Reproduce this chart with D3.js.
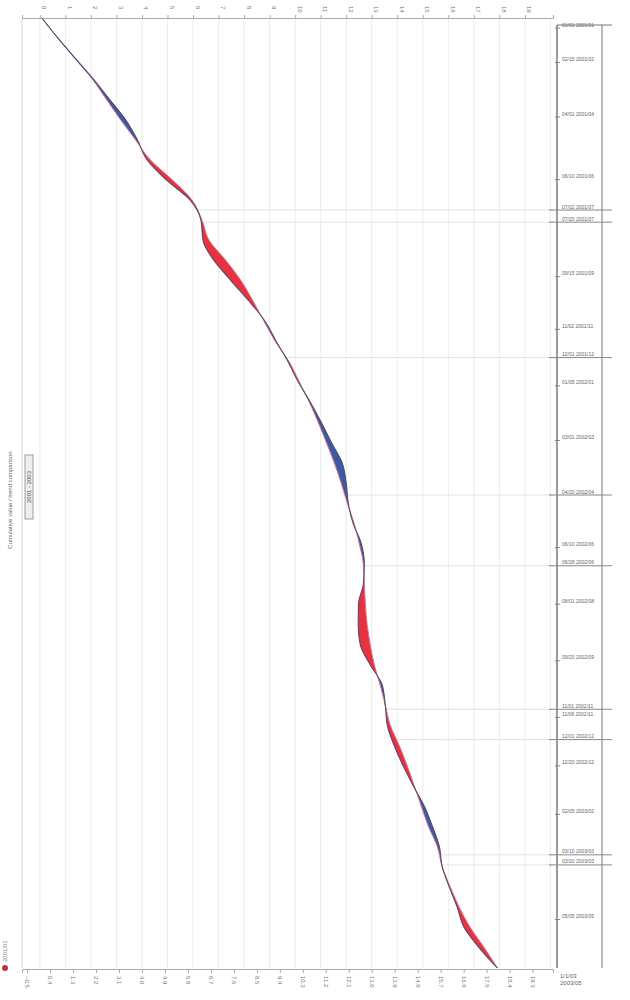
<!DOCTYPE html>
<html>
<head>
<meta charset="utf-8">
<script src="https://cdn.jsdelivr.net/npm/d3@7"></script>
<style>
  body { margin: 0; background: #fff; }
  svg { display: block; font-family: "Liberation Sans", Arial, sans-serif; }
</style>
</head>
<body>
<div id="chart"></div>
<script>
// baseline (trend) and actual series, one value per period
var baseline = [0.08, 0.71, 1.37, 2.04, 2.59, 3.14, 3.73, 4.31, 5.18, 5.96,
  6.35, 6.63, 7.29, 7.88, 8.35, 8.78, 9.22, 9.76, 10.16, 10.55,
  10.90, 11.22, 11.53, 11.80, 12.04, 12.31, 12.51, 12.67, 12.71, 12.75,
  12.82, 12.94, 13.10, 13.33, 13.53, 13.73, 14.08, 14.39, 14.67, 14.94,
  15.22, 15.57, 15.76, 16.08, 16.43, 16.86, 17.41, 17.92]
var actual = [0.08, 0.71, 1.39, 2.08, 2.71, 3.34, 3.81, 4.19, 4.94, 5.88,
  6.31, 6.39, 6.82, 7.49, 8.19, 8.82, 9.26, 9.72, 10.12, 10.59,
  11.02, 11.42, 11.84, 12.00, 12.08, 12.27, 12.59, 12.71, 12.67, 12.48,
  12.47, 12.55, 12.94, 13.41, 13.53, 13.61, 13.88, 14.23, 14.63, 15.06,
  15.38, 15.65, 15.76, 16.04, 16.35, 16.62, 17.21, 17.92]
var periods = d3.range(baseline.length)

// marks on the time strip (period index) and their labels
var markPos = [0.5, 2.2, 4.9, 8.0, 9.5, 10.1, 12.8, 15.4, 16.8, 18.2, 20.9, 23.6,
  26.2, 27.1, 29.0, 31.8, 34.2, 34.6, 35.7, 37.0, 39.4, 41.4, 41.9, 44.6]
var markLabels = ["01/01  2001/01", "02/15  2001/02", "04/01  2001/04", "06/10  2001/06",
  "07/02  2001/07", "07/20  2001/07", "09/15  2001/09", "11/02  2001/11",
  "12/01  2001/12", "01/05  2002/01", "03/01  2002/03", "04/20  2002/04",
  "06/10  2002/06", "06/28  2002/06", "08/01  2002/08", "09/20  2002/09",
  "11/01  2002/11", "11/08  2002/11", "12/01  2002/12", "12/20  2002/12",
  "02/05  2003/02", "03/10  2003/03", "03/20  2003/03", "05/05  2003/05"]
var majorMarks = [4, 5, 8, 11, 13, 16, 18, 21, 22]

var titleText = "Cumulative value / trend comparison"
var boxText = "2001 - 2003"
var startLabel = "2001/01"
var endLabel = ["1/1/03", "2003/05"]

var W = 630, H = 1000
var svg = d3.select("#chart").append("svg")
  .attr("width", W).attr("height", H)

var x = d3.scaleLinear().domain([-0.7, 20.1]).range([22, 553])
var y = d3.scaleLinear().domain([0, baseline.length - 1]).range([18, 968])

// vertical grid
svg.append("g").selectAll("line")
  .data(d3.range(0, 21))
  .enter().append("line")
  .attr("x1", function (d) { return x(d) }).attr("x2", function (d) { return x(d) })
  .attr("y1", 18).attr("y2", 968)
  .attr("stroke", "#ececec").attr("stroke-width", 1)

svg.append("line")
  .attr("x1", 22).attr("x2", 22).attr("y1", 18).attr("y2", 968)
  .attr("stroke", "#d8d8d8")

// drop lines from the curve to the time strip
svg.append("g").selectAll("line")
  .data(majorMarks)
  .enter().append("line")
  .attr("x1", function (i) {
    var p = markPos[i], a = Math.floor(p), b = Math.min(a + 1, actual.length - 1)
    return x(actual[a] + (actual[b] - actual[a]) * (p - a))
  })
  .attr("x2", 553)
  .attr("y1", function (i) { return y(markPos[i]) })
  .attr("y2", function (i) { return y(markPos[i]) })
  .attr("stroke", "#e2e2e2")

// difference fills
var defs = svg.append("defs")
defs.append("clipPath").attr("id", "clipRed").append("path")
  .attr("d", d3.area().curve(d3.curveMonotoneY)
    .y(function (d) { return y(d) })
    .x0(function (d) { return x(actual[d]) })
    .x1(600)(periods))
defs.append("clipPath").attr("id", "clipBlue").append("path")
  .attr("d", d3.area().curve(d3.curveMonotoneY)
    .y(function (d) { return y(d) })
    .x0(0)
    .x1(function (d) { return x(actual[d]) })(periods))

svg.append("path")
  .attr("clip-path", "url(#clipRed)")
  .attr("fill", "#e8323f")
  .attr("d", d3.area().curve(d3.curveMonotoneY)
    .y(function (d) { return y(d) })
    .x0(0)
    .x1(function (d) { return x(baseline[d]) })(periods))

svg.append("path")
  .attr("clip-path", "url(#clipBlue)")
  .attr("fill", "#3b5aa6")
  .attr("d", d3.area().curve(d3.curveMonotoneY)
    .y(function (d) { return y(d) })
    .x0(function (d) { return x(baseline[d]) })
    .x1(600)(periods))

var lineB = d3.line().curve(d3.curveMonotoneY)
  .y(function (d) { return y(d) })
  .x(function (d) { return x(baseline[d]) })
var lineA = d3.line().curve(d3.curveMonotoneY)
  .y(function (d) { return y(d) })
  .x(function (d) { return x(actual[d]) })

svg.append("path").attr("d", lineB(periods))
  .attr("fill", "none").attr("stroke", "#ee6f80").attr("stroke-width", 1)
svg.append("path").attr("d", lineA(periods))
  .attr("fill", "none").attr("stroke", "#4a4f72").attr("stroke-width", 1.1)

// top and bottom value axes
var topAxis = svg.append("g").attr("transform", "translate(0,18)")
  .call(d3.axisTop(x).tickValues(d3.range(0, 20)).tickSize(3).tickFormat(d3.format("d")))
topAxis.selectAll("text")
  .attr("transform", "rotate(90)").attr("x", -12).attr("y", -2)
  .style("text-anchor", "start").style("font-size", "6px").attr("fill", "#777")
topAxis.selectAll("line,path").attr("stroke", "#aaa")

var botAxis = svg.append("g").attr("transform", "translate(0,969)")
  .call(d3.axisBottom(x).tickValues(d3.range(-0.5, 20, 0.9)).tickSize(4).tickFormat(d3.format(".1f")))
botAxis.selectAll("text")
  .attr("transform", "rotate(90)").attr("x", 7).attr("y", -2)
  .style("text-anchor", "start").style("font-size", "6px").attr("fill", "#777")
botAxis.selectAll("line,path").attr("stroke", "#aaa")

// time strip on the right
var strip = svg.append("g")
strip.append("line").attr("x1", 557).attr("x2", 557).attr("y1", 25).attr("y2", 968)
  .attr("stroke", "#555").attr("stroke-width", 1.2)
strip.append("line").attr("x1", 602).attr("x2", 602).attr("y1", 25).attr("y2", 968)
  .attr("stroke", "#777").attr("stroke-width", 1)
strip.append("line").attr("x1", 557).attr("x2", 612).attr("y1", 25).attr("y2", 25)
  .attr("stroke", "#777")

var marks = strip.selectAll(".mark").data(markPos)
  .enter().append("g").attr("class", "mark")
  .attr("transform", function (d) { return "translate(0," + y(d) + ")" })
marks.append("line")
  .attr("x1", function (d, i) { return majorMarks.indexOf(i) >= 0 ? 549 : 555 })
  .attr("x2", function (d, i) { return majorMarks.indexOf(i) >= 0 ? 612 : 560 })
  .attr("stroke", "#888")
marks.append("text")
  .attr("x", 562).attr("y", -1.5)
  .style("font-size", "5px").attr("fill", "#666")
  .text(function (d, i) { return markLabels[i] })

// left title and box
svg.append("text")
  .attr("transform", "translate(12,500) rotate(-90)")
  .style("text-anchor", "middle").style("font-size", "6px").attr("fill", "#666")
  .text(titleText)
svg.append("rect").attr("x", 25).attr("y", 455).attr("width", 8).attr("height", 64)
  .attr("fill", "#eee").attr("stroke", "#888").attr("stroke-width", 0.8)
svg.append("text")
  .attr("transform", "translate(31,487) rotate(-90)")
  .style("text-anchor", "middle").style("font-size", "6px").attr("fill", "#555")
  .text(boxText)

// start marker
svg.append("circle").attr("cx", 5).attr("cy", 968).attr("r", 3).attr("fill", "#c8303c")
svg.append("text")
  .attr("transform", "translate(7,962) rotate(-90)")
  .style("font-size", "6px").attr("fill", "#888")
  .text(startLabel)

// end labels
svg.selectAll(".endLbl").data(endLabel).enter().append("text")
  .attr("x", 560).attr("y", function (d, i) { return 978 + i * 7 })
  .style("font-size", "6px").attr("fill", "#666")
  .text(function (d) { return d })
</script>
</body>
</html>
